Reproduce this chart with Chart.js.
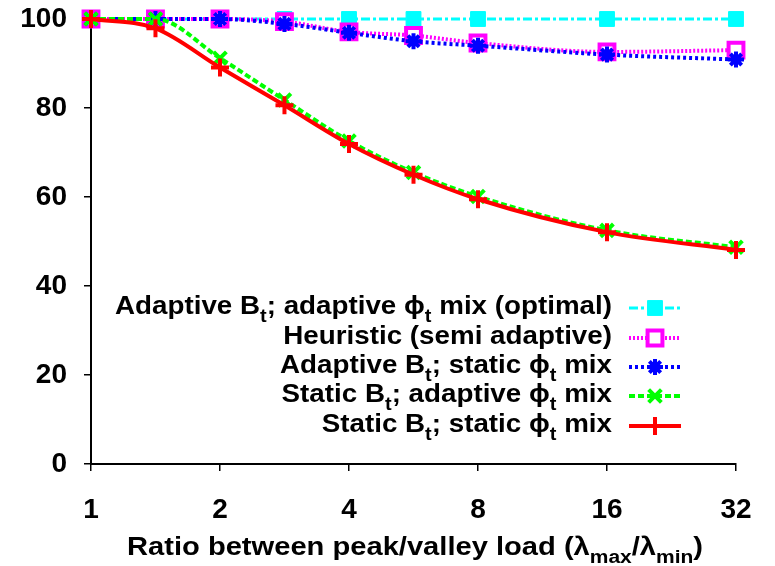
<!DOCTYPE html>
<html>
<head>
<meta charset="utf-8">
<script src="https://cdn.jsdelivr.net/npm/chart.js@4/dist/chart.umd.min.js"></script>
<style>
  html, body { margin: 0; padding: 0; background: #fff; }
  #chart { display: block; }
</style>
</head>
<body>
<canvas id="chart" width="775" height="566"></canvas>
<script>
// Load ratio (peak / valley), plotted on a log2 axis
const ratios = [1, 1.414, 2, 2.828, 4, 5.657, 8, 16, 32];
const xTickValues = [1, 2, 4, 8, 16, 32];

// Series values (%)
const optimalMix = [100, 100, 100, 100, 100, 100, 100, 100, 100];
const heuristic = [100, 100, 100, 99.4, 97.1, 96.3, 94.6, 92.6, 93];
const adaptiveBStaticMix = [100, 100, 100, 98.9, 96.9, 95, 94, 92, 90.9];
const staticBAdaptiveMix = [100, 100, 91.2, 81.8, 72.6, 65.5, 60.1, 52.5, 48.7];
const staticBStaticMix = [100, 97.9, 89.1, 80.6, 71.9, 65, 59.5, 52.1, 48.1];

const FONT = "'Liberation Sans', Arial, sans-serif";

// legend labels, split into [text, isSubscript] pieces
const legendLabels = [
  [['Adaptive B', 0], ['t', 1], ['; adaptive \u03D5', 0], ['t', 1], [' mix (optimal)', 0]],
  [['Heuristic (semi adaptive)', 0]],
  [['Adaptive B', 0], ['t', 1], ['; static \u03D5', 0], ['t', 1], [' mix', 0]],
  [['Static B', 0], ['t', 1], ['; adaptive \u03D5', 0], ['t', 1], [' mix', 0]],
  [['Static B', 0], ['t', 1], ['; static \u03D5', 0], ['t', 1], [' mix', 0]],
];
const xTitle = [['Ratio between peak/valley load (\u03BB', 0], ['max', 1], ['/\u03BB', 0], ['min', 1], [')', 0]];

const toPoints = (vals) => vals.map((v, i) => ({ x: ratios[i], y: v }));

const datasets = [
  {
    data: toPoints(optimalMix), borderColor: '#00FFFF', backgroundColor: '#00FFFF',
    borderWidth: 3, borderDash: [9, 3, 3, 3], pointStyle: 'rect', pointRadius: 10.5,
    pointBorderWidth: 1, order: 5,
  },
  {
    data: toPoints(heuristic), borderColor: '#FF00FF', backgroundColor: '#FFFFFF',
    borderWidth: 4, borderDash: [2, 2], pointStyle: 'rect', pointRadius: 10.5,
    pointBorderWidth: 4, pointBorderColor: '#FF00FF', order: 4,
  },
  {
    data: toPoints(adaptiveBStaticMix), borderColor: '#0000FF', backgroundColor: '#0000FF',
    borderWidth: 4, borderDash: [3, 3], pointStyle: 'star', pointRadius: 8,
    pointBorderWidth: 4, order: 3,
  },
  {
    data: toPoints(staticBAdaptiveMix), borderColor: '#00FF00', backgroundColor: '#00FF00',
    borderWidth: 4, borderDash: [6, 3], pointStyle: 'crossRot', pointRadius: 9,
    pointBorderWidth: 4, order: 2,
  },
  {
    data: toPoints(staticBStaticMix), borderColor: '#FF0000', backgroundColor: '#FF0000',
    borderWidth: 4, borderDash: [], pointStyle: 'cross', pointRadius: 9,
    pointBorderWidth: 4, order: 1,
  },
];

// width of a rich text line at a given size
function richWidth(ctx, pieces, size) {
  let total = 0;
  pieces.forEach(([t, sub]) => {
    ctx.font = `bold ${sub ? Math.round(size * 0.72) : size}px ${FONT}`;
    total += ctx.measureText(t).width;
  });
  return total;
}

// draw text with subscript pieces, stretched horizontally by sx
function drawRich(ctx, pieces, x, y, size, align, sx) {
  const subSize = Math.round(size * 0.72);
  const total = richWidth(ctx, pieces, size) * sx;
  const left = align === 'right' ? x - total : align === 'center' ? x - total / 2 : x;
  ctx.save();
  ctx.translate(left, y);
  ctx.scale(sx, 1);
  ctx.fillStyle = '#000';
  ctx.textBaseline = 'alphabetic';
  ctx.textAlign = 'left';
  let cx = 0;
  pieces.forEach(([t, sub]) => {
    ctx.font = `bold ${sub ? subSize : size}px ${FONT}`;
    ctx.fillText(t, cx, sub ? size * 0.3 : 0);
    cx += ctx.measureText(t).width;
  });
  ctx.restore();
}

const overlayPlugin = {
  id: 'overlay',
  afterDraw(chart) {
    const ctx = chart.ctx;
    ctx.save();
    // legend, text stretched so the first row spans 115..612 like the source
    const legendStretch = 497 / richWidth(ctx, legendLabels[0], 25);
    const rowBase = [314, 344, 373, 402, 432];
    datasets.forEach((ds, i) => {
      const yb = rowBase[i];
      drawRich(ctx, legendLabels[i], 612, yb, 25, 'right', legendStretch);
      const ly = yb - 6;
      ctx.save();
      ctx.strokeStyle = ds.borderColor;
      ctx.lineWidth = ds.borderWidth;
      ctx.setLineDash(ds.borderDash);
      ctx.beginPath();
      ctx.moveTo(629, ly);
      ctx.lineTo(681, ly);
      ctx.stroke();
      ctx.restore();
      ctx.save();
      ctx.strokeStyle = ds.pointBorderColor || ds.borderColor;
      ctx.fillStyle = ds.backgroundColor;
      ctx.lineWidth = ds.pointBorderWidth;
      Chart.helpers.drawPoint(ctx, { pointStyle: ds.pointStyle, radius: ds.pointRadius, borderWidth: ds.pointBorderWidth, rotation: 0 }, 655, ly);
      ctx.restore();
    });
    // x axis title, spans 127..703 in the source
    const titleStretch = 576 / richWidth(ctx, xTitle, 25);
    drawRich(ctx, xTitle, 415, 555, 25, 'center', titleStretch);
    ctx.restore();
  },
};

new Chart(document.getElementById('chart'), {
  type: 'line',
  data: { datasets },
  plugins: [overlayPlugin],
  options: {
    responsive: false,
    animation: false,
    layout: { padding: { top: 19, right: 39, left: 0, bottom: 0 } },
    elements: {
      line: { cubicInterpolationMode: 'monotone', fill: false },
      point: { hoverRadius: 0 },
    },
    datasets: { line: { clip: false } },
    plugins: { legend: { display: false }, tooltip: { enabled: false } },
    scales: {
      x: {
        type: 'logarithmic',
        min: 1,
        max: 32,
        afterBuildTicks: (axis) => { axis.ticks = xTickValues.map((v) => ({ value: v })); },
        afterFit: (scale) => { scale.height = 102; },
        border: { color: '#000', width: 2 },
        grid: { drawOnChartArea: false, drawTicks: true, tickLength: 7, color: '#000', lineWidth: 1.5 },
        ticks: {
          color: '#000', padding: 22, maxRotation: 0, autoSkip: false,
          font: { family: FONT, size: 28, weight: 'bold' },
          callback: (v) => String(v),
        },
      },
      y: {
        min: 0,
        max: 100,
        afterFit: (scale) => {
          scale.width = 91;
          scale.paddingTop = 0;
          scale.paddingBottom = 0;
        },
        border: { color: '#000', width: 2 },
        grid: { drawOnChartArea: false, drawTicks: true, tickLength: 7, color: '#000', lineWidth: 1.5 },
        ticks: {
          color: '#000', padding: 17, stepSize: 20,
          font: { family: FONT, size: 28, weight: 'bold' },
        },
      },
    },
  },
});
</script>
</body>
</html>
